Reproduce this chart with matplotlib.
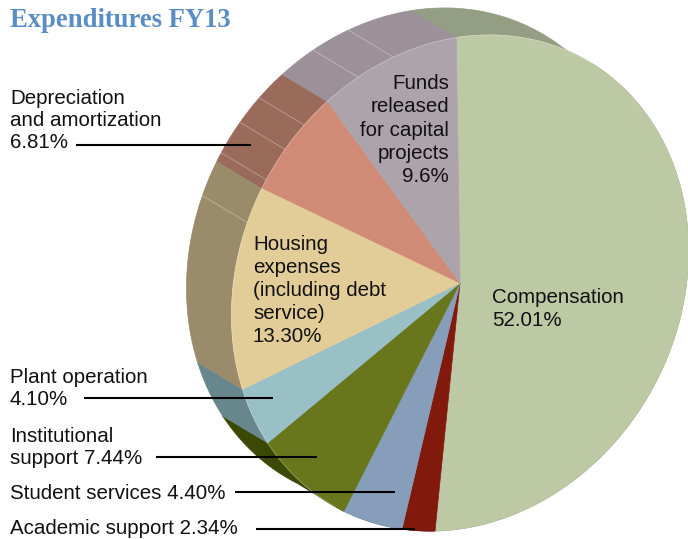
import numpy as np
import matplotlib.pyplot as plt
from matplotlib.patches import Polygon

# slices, clockwise from 12 o'clock
labels = ["Compensation", "Academic support", "Student services",
          "Institutional support", "Plant operation", "Housing expenses",
          "Depreciation and amortization", "Funds released for capital projects"]
shares = [52.01, 2.34, 4.40, 7.44, 4.10, 13.30, 6.81, 9.6]
top_colors = ["#bdc8a5", "#82190d", "#879ebb", "#69771c",
              "#99c0c7", "#e2cd99", "#d08b76", "#ada3ab"]
side_colors = ["#949e82", "#5a120a", "#5f6f84", "#3c4806",
               "#67878c", "#9a8b6b", "#9a6a5a", "#9c9198"]

W, H = 688, 539
cx, cy = 460, 283
# unit circle -> tilted top face (x right, y up), in pixels
M = np.array([[228.5, -3.8], [36.3, 245.4]])
depth = np.array([-45, -27])  # offset of the back face (image px)
facets = [106, 115.5, 132, 139, 147, 157.5]  # faint seams on the rim


def face(t):
    t = np.radians(np.atleast_1d(t))
    v = M @ np.vstack([np.cos(t), np.sin(t)])
    return np.column_stack([cx + v[0], cy - v[1]])


fig = plt.figure(figsize=(W / 100, H / 100), dpi=100)
ax = fig.add_axes([0, 0, 1, 1])
ax.set_xlim(0, W)
ax.set_ylim(H, 0)
ax.axis("off")

bounds = 90 - np.concatenate([[0], np.cumsum(shares)]) * 3.6
for i in range(len(shares)):
    t1, t2 = bounds[i], bounds[i + 1]
    ts = np.linspace(t1, t2, 200)
    arc = face(ts)
    side = np.vstack([arc, arc[::-1] + depth])
    ax.add_patch(Polygon(side, closed=True, fc=side_colors[i],
                         ec=side_colors[i], lw=0.5, zorder=1))
    top = np.vstack([[cx, cy], arc])
    ax.add_patch(Polygon(top, closed=True, fc=top_colors[i],
                         ec=top_colors[i], lw=0.5, zorder=3))

for t in facets:
    p = face(t)[0]
    ax.plot([p[0], p[0] + depth[0]], [p[1], p[1] + depth[1]],
            color="white", lw=0.6, alpha=0.35, zorder=2)

# light seam where rim meets top face
seam = face(np.linspace(54, 236, 300))
ax.plot(seam[:, 0], seam[:, 1], color="white", lw=0.6, alpha=0.3, zorder=4)

fig.text(10 / W, 1 - 27 / H, "Expenditures FY13", family="Liberation Serif",
         weight="bold", fontsize=19.2, color="#5a8dc2", va="baseline")

fs = 14.8
tk = dict(family="Liberation Sans", fontsize=fs, color="#111111", zorder=6)

# outside labels with leader lines: text, last baseline, line y, line x-range
outside = [
    ("Depreciation\nand amortization\n6.81%", 148, 145, 76, 251),
    ("Plant operation\n4.10%", 405, 398, 84, 273),
    ("Institutional\nsupport 7.44%", 464, 457, 156, 317),
    ("Student services 4.40%", 499, 492, 235, 395),
    ("Academic support 2.34%", 534, 529, 256, 415),
]
for txt, yb, ly, x0, x1 in outside:
    ax.text(10, yb, txt, ha="left", va="baseline", linespacing=1.2, **tk)
    ax.plot([x0, x1], [ly, ly], color="black", lw=1.5, zorder=7,
            solid_capstyle="butt")

ax.text(449, 182, "Funds\nreleased\nfor capital\nprojects\n9.6%", ha="right",
        va="baseline", linespacing=1.28, **tk)
ax.text(253, 342, "Housing\nexpenses\n(including debt\nservice)\n13.30%",
        ha="left", va="baseline", linespacing=1.27, **tk)
ax.text(492, 326, "Compensation\n52.01%", ha="left", va="baseline",
        linespacing=1.28, **tk)

fig.savefig("out.png", dpi=100)
